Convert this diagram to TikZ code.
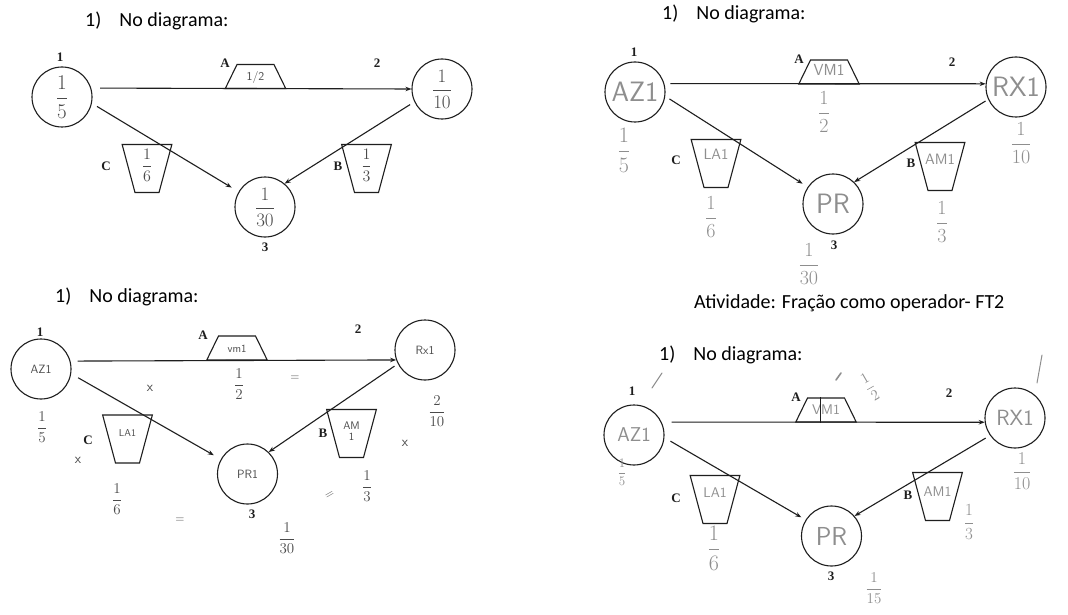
\documentclass[tikz,border=0pt]{standalone}
\usepackage{fix-cm}
\usepackage{amsmath}
\usepackage{fontspec}
\newfontfamily\titlefont{Carlito}
\newfontfamily\tagfont{Liberation Serif}
\usetikzlibrary{arrows.meta,shapes.geometric}
\definecolor{ink}{HTML}{1E1E1E}
\definecolor{pen}{HTML}{4A4A4A}
\definecolor{pencil}{HTML}{8E8E8E}

\begin{document}
\begin{tikzpicture}[x=1pt, y=-1pt,
          stop/.style={circle, draw=ink, line width=1.1pt, minimum size=60pt, inner sep=0pt},
          opA/.style={trapezium, draw=ink, line width=1.1pt, trapezium angle=64, text width=37pt, text height=16pt, text depth=8pt, inner sep=0pt, align=center},
          opBC/.style={trapezium, shape border rotate=180, draw=ink, line width=1.1pt, trapezium angle=75, text width=24pt, text height=24pt, text depth=24pt, inner sep=0pt},
          tag/.style={font=\tagfont\bfseries\fontsize{13}{13}\selectfont, text=ink, inner sep=0pt},
          ttl/.style={font=\titlefont\fontsize{20}{20}\selectfont, text=black, anchor=base west, inner sep=0pt},
          hand/.style={font=\sffamily\fontsize{#1}{#1}\selectfont, text=pen, align=center},
          hand/.default=14,
          fr/.style={font=\fontsize{#1}{#1}\selectfont, text=pen, inner sep=0pt},
          stroke/.style={draw=pencil, line width=1pt, line cap=round},
          arr/.style={-{Stealth[length=6pt,width=4.5pt]}, line width=1.1pt, draw=ink}]
        \fill[white] (0,0) rectangle (1068,615);
        \useasboundingbox (0,0) rectangle (1068,615);

        % top left
        \node[ttl] (t1) at (85,26.5) {1)\hspace{0.9em}No diagrama:};
        \node[stop, fr=21] (a1) at (62,97) {$\dfrac{1}{5}$};
        \node[stop, fr=19] (a2) at (442,89) {$\dfrac{1}{10}$};
        \node[stop, fr=19] (a3) at (265,207) {$\dfrac{1}{30}$};
        \node[tag] (a1n) at (60,57) {1};
        \node[tag] (a2n) at (377,63) {2};
        \node[tag] (a3n) at (265,247) {3};
        \node[opA, hand=12] (aA) at (255.5,76.5) {1/2};
        \node[opBC, label={[fr=16, yshift=3pt]center:$\dfrac{1}{6}$}] (aC) at (147,168.5) {};
        \node[opBC, label={[fr=16, yshift=3pt]center:$\dfrac{1}{3}$}] (aB) at (366.5,168.5) {};
        \node[tag] (aAn) at (225,63) {A};
        \node[tag] (aCn) at (106,166) {C};
        \node[tag] (aBn) at (338,166) {B};
        \draw[arr, shorten <=9pt] (a1.17) -- (a2.west);
        \draw[arr, shorten <=6pt, shorten >=8pt] (a1.-12) -- (a3.150);
        \draw[arr, shorten <=5pt] (a2.205) -- (a3.50);

        % top right
        \node[ttl] (t2) at (662,20) {1)\hspace{0.9em}No diagrama:};
        \node[stop, hand=28, text=pencil] (b1) at (635,92) {AZ1};
        \node[stop, hand=28, text=pencil] (b2) at (1016,87) {RX1};
        \node[stop, hand=28, text=pencil] (b3) at (833,204) {PR};
        \node[tag] (b1n) at (634,52) {1};
        \node[tag] (b2n) at (952,62) {2};
        \node[tag] (b3n) at (834,245) {3};
        \node[opA, hand=16, text=pencil] (bA) at (829,72) {VM1};
        \node[opBC, label={[hand=15, text=pencil, yshift=9pt]center:LA1}] (bC) at (716,163.5) {};
        \node[opBC, label={[hand=15, text=pencil, yshift=7pt]center:AM1}] (bB) at (940,166.5) {};
        \node[tag] (bAn) at (799,59) {A};
        \node[tag] (bCn) at (676,160) {C};
        \node[tag] (bBn) at (911,163) {B};
        \node[fr=22, text=pencil] (b1f) at (624,150) {$\dfrac{1}{5}$};
        \node[fr=20, text=pencil] (b2f) at (1021,143) {$\dfrac{1}{10}$};
        \node[fr=20, text=pencil] (b3f) at (809,264) {$\dfrac{1}{30}$};
        \node[fr=20, text=pencil] (bAf) at (824,112) {$\dfrac{1}{2}$};
        \node[fr=20, text=pencil] (bCf) at (711,217) {$\dfrac{1}{6}$};
        \node[fr=20, text=pencil] (bBf) at (942,222) {$\dfrac{1}{3}$};
        \draw[arr, shorten <=6pt] (b1.16) -- (b2.174);
        \draw[arr, shorten <=5pt, shorten >=6pt] (b1.-8) -- (b3.146);
        \draw[arr, shorten <=3pt] (b2.204) -- (b3.46);

        % bottom left
        \node[ttl] (t3) at (55,302) {1)\hspace{0.9em}No diagrama:};
        \node[stop, hand=12] (c1) at (41,369) {AZ1};
        \node[stop, hand=12] (c2) at (425,350) {Rx1};
        \node[stop, hand=12] (c3) at (247.5,474) {PR1};
        \node[tag] (c1n) at (40,332) {1};
        \node[tag] (c2n) at (358,329) {2};
        \node[tag] (c3n) at (252,514) {3};
        \node[opA, hand=11] (cA) at (237,348) {vm1};
        \node[opBC, label={[hand=10, yshift=6pt]center:LA1}] (cC) at (127.5,439) {};
        \node[opBC, label={[hand=11, yshift=2pt]center:AM\\1}] (cB) at (351.5,433.5) {};
        \node[tag] (cAn) at (203,335) {A};
        \node[tag] (cCn) at (88,440) {C};
        \node[tag] (cBn) at (323,433) {B};
        \node[fr=15] (c1f) at (42,427) {$\dfrac{1}{5}$};
        \node[fr=15] (c2f) at (437,411) {$\dfrac{2}{10}$};
        \node[fr=15] (c3f) at (287,538) {$\dfrac{1}{30}$};
        \node[fr=15] (cAf) at (239,384) {$\dfrac{1}{2}$};
        \node[fr=15] (cCf) at (117,499) {$\dfrac{1}{6}$};
        \node[fr=15] (cBf) at (367,486) {$\dfrac{1}{3}$};
        \node[hand=14] (cx1) at (150,388) {x};
        \node[hand=14] (cx2) at (78,460) {x};
        \node[hand=14] (cx3) at (405,443) {x};
        \node[hand=12] (ce1) at (295,378) {=};
        \node[hand=12] (ce2) at (180,520) {=};
        \node[hand=12, rotate=30] (ce3) at (330,495) {=};
        \draw[arr, shorten <=7pt] (c1.15) -- (c2.199);
        \draw[arr, shorten <=8pt, shorten >=8pt] (c1.-9) -- (c3.151);
        \draw[arr, shorten <=4pt] (c2.207) -- (c3.46);

        % bottom right
        \node[ttl] (act) at (694,308) {Atividade: Fração como operador- FT2};
        \node[ttl] (t4) at (659,360) {1)\hspace{0.9em}No diagrama:};
        \node[stop, hand=20, text=pencil] (d1) at (634,435) {AZ1};
        \node[stop, hand=22, text=pencil] (d2) at (1015,418) {RX1};
        \node[stop, hand=26, text=pencil] (d3) at (831.5,536) {PR};
        \node[tag] (d1n) at (632,391) {1};
        \node[tag] (d2n) at (949,393) {2};
        \node[tag] (d3n) at (831,576) {3};
        \node[opA, hand=14, text=pencil] (dA) at (826,410) {VM1};
        \node[opBC, label={[hand=14, text=pencil, yshift=7pt]center:LA1}] (dC) at (715,499.5) {};
        \node[opBC, label={[hand=14, text=pencil, yshift=5pt]center:AM1}] (dB) at (937.5,496.5) {};
        \node[tag] (dAn) at (796,397) {A};
        \node[tag] (dCn) at (676,498) {C};
        \node[tag] (dBn) at (908,495) {B};
        \node[fr=13, text=pencil] (d1f) at (622,472) {$\dfrac{1}{5}$};
        \node[fr=18, text=pencil] (d2f) at (1022,471) {$\dfrac{1}{10}$};
        \node[fr=15, text=pencil] (d3f) at (874,588) {$\dfrac{1}{15}$};
        \node[fr=15, text=pencil, rotate=30] (dAf) at (870,387) {$\dfrac{1}{2}$};
        \node[fr=22, text=pencil] (dCf) at (714,548) {$\dfrac{1}{6}$};
        \node[fr=17, text=pencil] (dBf) at (969,522) {$\dfrac{1}{3}$};
        \draw[ink, line width=0.9pt] ([xshift=-6pt]dA.north) -- ([xshift=-6pt]dA.south);
        \draw[stroke] (652,388) -- (662,373);
        \draw[stroke, line width=1.6pt] (836,380) -- (841,373);
        \draw[stroke] (1037,383) -- (1042,355);
        \draw[arr, shorten <=10pt] (d1.25) -- (d2.188);
        \draw[arr, shorten <=7pt, shorten >=5pt] (d1.-5) -- (d3.148);
        \draw[arr, shorten <=5pt] (d2.215) -- (d3.41);
      \end{tikzpicture}
\end{document}
